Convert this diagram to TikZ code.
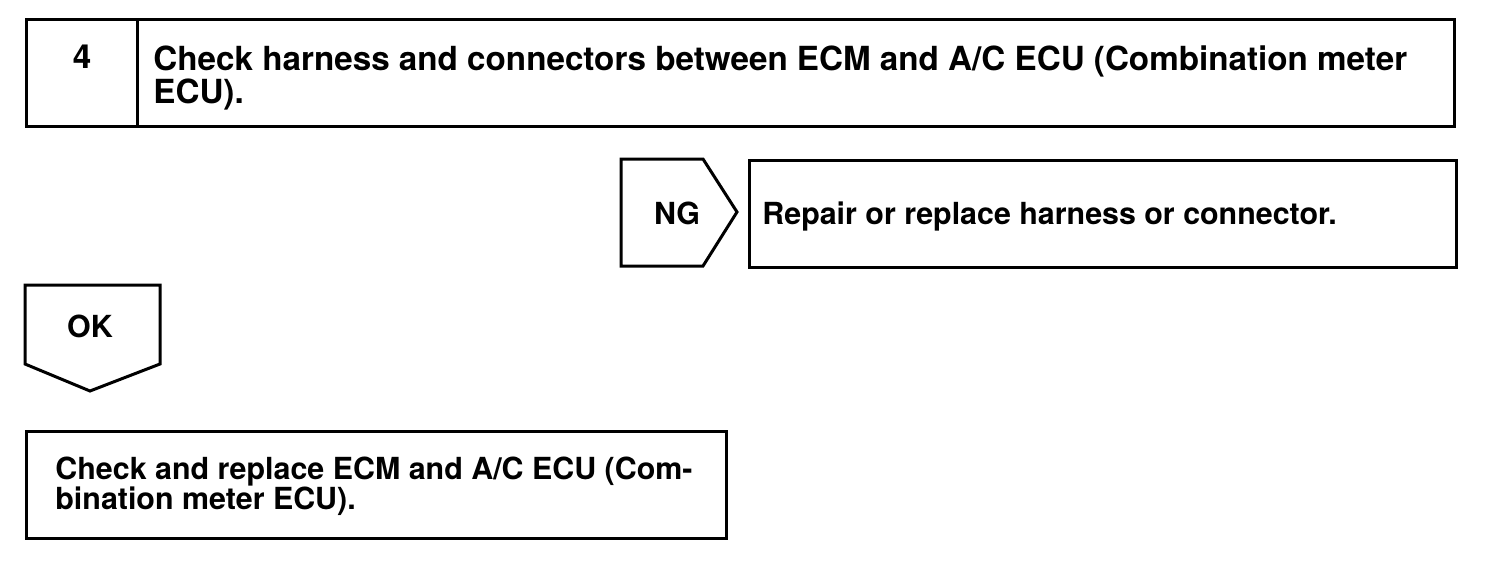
\documentclass[tikz,border=0pt]{standalone}
\usepackage{fontspec}
\setmainfont{TeX Gyre Heros}
\usetikzlibrary{positioning}
\tikzset{
  frame/.style={draw, line width=1.5pt, anchor=north west, inner sep=0pt},
  shape line/.style={line width=1.5pt, line join=miter},
  stepfont/.style={font=\bfseries\fontsize{15.2}{15}\selectfont, inner sep=0pt, align=left, anchor=north west},
  titlefont/.style={stepfont, font=\bfseries\fontsize{16.6}{16.8}\selectfont},
}

\begin{document}
\begin{tikzpicture}[x=0.5pt,y=-0.5pt]
\useasboundingbox (0,0) rectangle (1504,562);

% step header
\node[frame, minimum width=714pt, minimum height=53.5pt] (step) at (25,18) {};
\draw[shape line] (137,18) -- (137,125);
\node[titlefont, anchor=north] (num) at (82,45) {4};
\node[titlefont] (title) at (153,45) {Check harness and connectors between ECM and A/C ECU (Combination meter\\ECU).};

% NG branch
\draw[shape line] (621,159) -- (703,159) -- (737,212) -- (703,266) -- (621,266) -- cycle;
\node[stepfont, anchor=center] (ng) at (677,213) {NG};
\node[frame, minimum width=353.5pt, minimum height=53.5pt] (repair) at (748,159) {};
\node[stepfont] (repairtext) at (762,201) {Repair or replace harness or connector.};

% OK branch
\draw[shape line] (25,285) -- (160,285) -- (160,364) -- (90,391) -- (25,364) -- cycle;
\node[stepfont, anchor=center] (ok) at (90,326) {OK};

% final step
\node[frame, minimum width=350pt, minimum height=53.5pt] (final) at (25,430) {};
\node[stepfont] (finaltext) at (55,457) {Check and replace ECM and A/C ECU (Com-\\bination meter ECU).};

\end{tikzpicture}
\end{document}
